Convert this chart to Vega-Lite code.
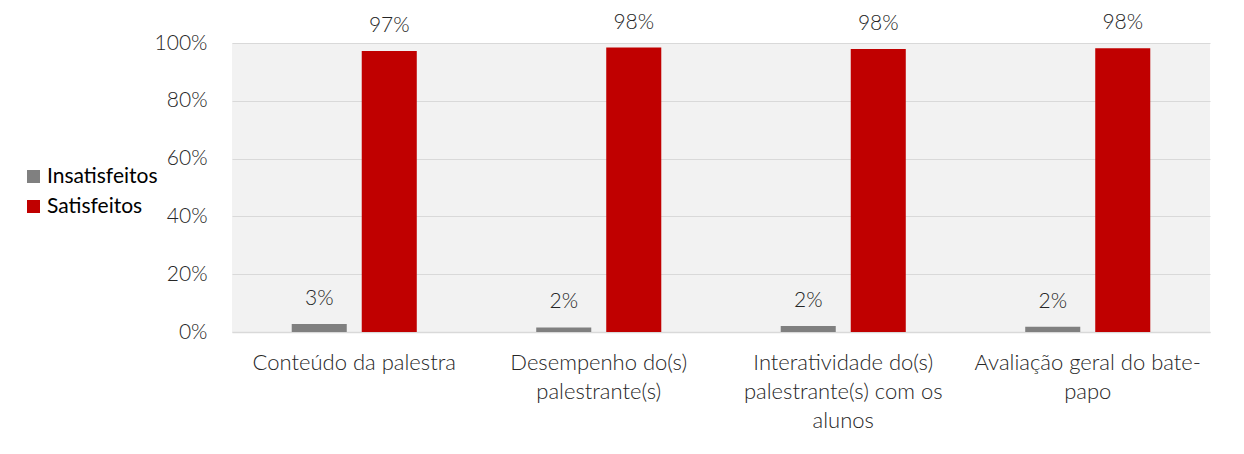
{
  "$schema": "https://vega.github.io/schema/vega-lite/v6.json",
  "width": 978,
  "height": 289,
  "autosize": {"type": "none"},
  "padding": {"left": 232, "top": 43, "right": 34, "bottom": 122},
  "background": "white",
  "data": {"values": [
    {"cat": "Conteúdo da palestra", "grupo": "Insatisfeitos", "v": 0.028},
    {"cat": "Conteúdo da palestra", "grupo": "Satisfeitos", "v": 0.972},
    {"cat": "Desempenho do(s) palestrante(s)", "grupo": "Insatisfeitos", "v": 0.016},
    {"cat": "Desempenho do(s) palestrante(s)", "grupo": "Satisfeitos", "v": 0.984},
    {"cat": "Interatividade do(s) palestrante(s) com os alunos", "grupo": "Insatisfeitos", "v": 0.021},
    {"cat": "Interatividade do(s) palestrante(s) com os alunos", "grupo": "Satisfeitos", "v": 0.979},
    {"cat": "Avaliação geral do bate-papo", "grupo": "Insatisfeitos", "v": 0.018},
    {"cat": "Avaliação geral do bate-papo", "grupo": "Satisfeitos", "v": 0.982}
  ]},
  "encoding": {
    "x": {
      "field": "cat", "type": "nominal", "sort": null, "title": null,
      "scale": {"paddingInner": 0, "paddingOuter": 0},
      "axis": {
        "labelAngle": 0, "ticks": false, "domainColor": "#D9D9D9", "domainWidth": 1.5,
        "labelFont": "Lato", "labelFontWeight": 300, "labelFontSize": 22, "labelColor": "#262626",
        "labelPadding": 30, "labelLineHeight": 29, "labelBaseline": "middle", "labelLimit": 400,
        "labelExpr": "datum.value == 'Desempenho do(s) palestrante(s)' ? ['Desempenho do(s)', 'palestrante(s)'] : datum.value == 'Interatividade do(s) palestrante(s) com os alunos' ? ['Interatividade do(s)', 'palestrante(s) com os', 'alunos'] : datum.value == 'Avaliação geral do bate-papo' ? ['Avaliação geral do bate-', 'papo'] : datum.value"
      }
    },
    "xOffset": {
      "field": "grupo", "type": "nominal",
      "scale": {"paddingInner": 0.214, "paddingOuter": 0.853}
    },
    "y": {
      "field": "v", "type": "quantitative", "title": null,
      "scale": {"domain": [0, 1]},
      "axis": {
        "values": [0, 0.2, 0.4, 0.6, 0.8, 1], "format": ".0%", "ticks": false, "domain": false,
        "gridColor": "#D9D9D9", "gridWidth": 1,
        "labelFont": "Lato", "labelFontWeight": 300, "labelFontSize": 21, "labelColor": "#262626",
        "labelPadding": 25
      }
    }
  },
  "layer": [
    {
      "mark": {"type": "bar"},
      "encoding": {
        "color": {
          "field": "grupo", "type": "nominal", "title": null,
          "scale": {"domain": ["Insatisfeitos", "Satisfeitos"], "range": ["#808080", "#C00000"]},
          "legend": {
            "orient": "none", "legendX": -209, "legendY": 123,
            "symbolType": "square", "symbolSize": 170, "symbolStrokeWidth": 0, "symbolOpacity": 1,
            "labelFont": "Lato", "labelFontSize": 21, "labelColor": "#000000",
            "labelOffset": 3, "rowPadding": 8
          }
        }
      }
    },
    {
      "mark": {"type": "text", "baseline": "middle", "dy": -25, "font": "Lato", "fontWeight": 300, "fontSize": 21, "color": "#262626"},
      "encoding": {
        "text": {"field": "v", "type": "quantitative", "format": ".0%"}
      }
    }
  ],
  "config": {
    "view": {"fill": "#F2F2F2", "stroke": null}
  }
}
